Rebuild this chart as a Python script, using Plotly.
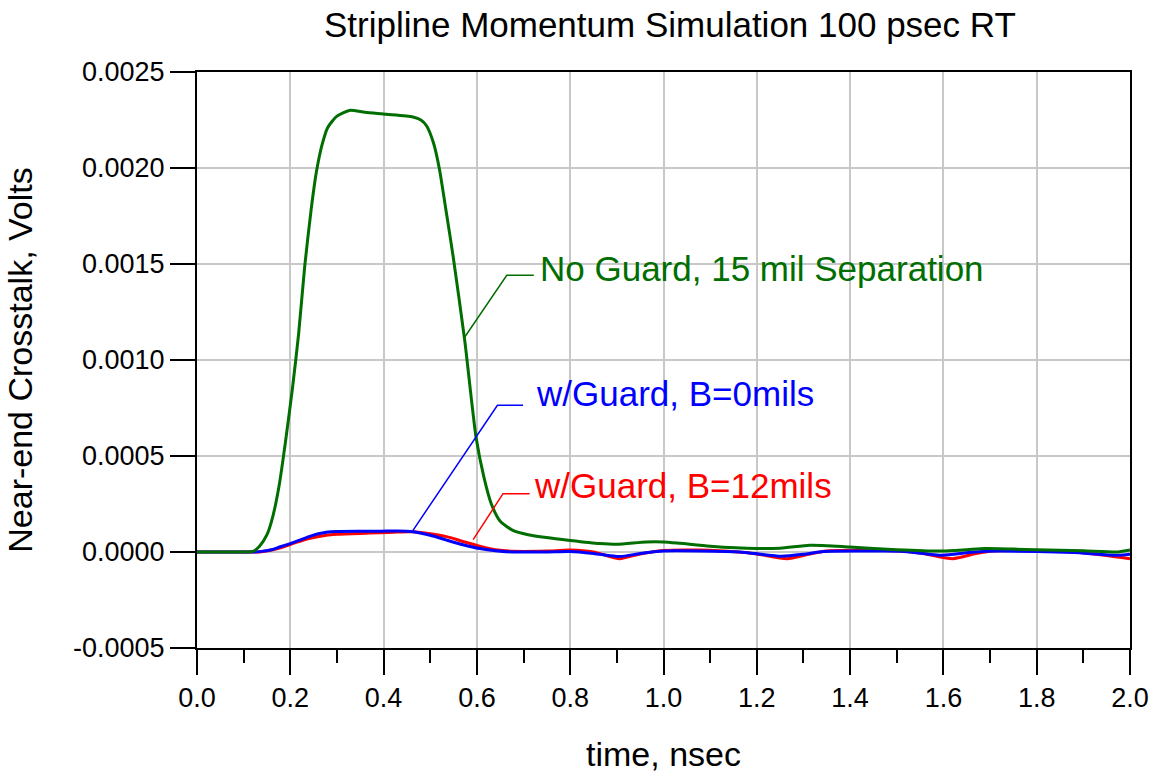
import plotly.graph_objects as go

# ---------------- data ----------------
green_t = [0.0, 0.10, 0.12, 0.134, 0.15, 0.163, 0.177, 0.19, 0.205, 0.218, 0.231, 0.245,
           0.256, 0.268, 0.28, 0.30, 0.327, 0.36, 0.406, 0.463, 0.48, 0.492, 0.507, 0.52,
           0.535, 0.549, 0.574, 0.598, 0.615, 0.631, 0.65, 0.677, 0.71, 0.749, 0.80,
           0.863, 0.90, 0.963, 1.0, 1.035, 1.10, 1.199, 1.25, 1.313, 1.35, 1.399, 1.5,
           1.598, 1.65, 1.689, 1.75, 1.798, 1.9, 1.974, 2.0]
green_v = [0.0, 0.0, 0.000003, 0.00003, 0.00009, 0.00019, 0.00036, 0.00058, 0.00086, 0.00114,
           0.00149, 0.00179, 0.00198, 0.00212, 0.00221, 0.00227, 0.00230, 0.00229, 0.00228,
           0.002266, 0.00225, 0.00222, 0.00213, 0.00199, 0.00176, 0.00154, 0.00110,
           0.00060, 0.00039, 0.00025, 0.00016, 0.000113, 0.00009, 0.000075, 0.00006,
           0.000044, 0.00004, 0.000052, 0.000052, 0.000045, 0.00003, 0.000018, 0.00002,
           0.000035, 0.000033, 0.000026, 0.000012, 0.000005, 0.000012, 0.000018, 0.000015,
           0.000012, 0.000006, 0.0, 0.00001]

blue_t = [0.0, 0.12, 0.134, 0.16, 0.177, 0.195, 0.213, 0.24, 0.26, 0.277, 0.30, 0.35, 0.392,
          0.43, 0.463, 0.50, 0.535, 0.57, 0.606, 0.64, 0.677, 0.75, 0.80, 0.85, 0.906, 0.95,
          1.0, 1.08, 1.163, 1.253, 1.30, 1.343, 1.45, 1.51, 1.598, 1.65, 1.69, 1.80, 1.88,
          1.974, 2.0]
blue_v = [0.0, 0.0, 0.000002, 0.000012, 0.000026, 0.00004, 0.000055, 0.00008, 0.000095,
          0.000103, 0.000107, 0.000108, 0.000108, 0.00011, 0.000106, 0.000087, 0.000062,
          0.000038, 0.000018, 0.000006, 0.0, 0.0, 0.000002, -0.000008, -0.000024, -0.000008,
          0.000005, 0.000005, 0.0, -0.000022, -0.000012, 0.000003, 0.000005, 0.000004,
          -0.000017, -0.000004, 0.000004, 0.000003, -0.000003, -0.000017, -0.000012]

red_t = [0.0, 0.12, 0.134, 0.16, 0.177, 0.213, 0.24, 0.277, 0.30, 0.35, 0.392, 0.43, 0.463,
         0.50, 0.535, 0.57, 0.606, 0.64, 0.677, 0.75, 0.80, 0.85, 0.906, 0.95, 1.0, 1.08,
         1.16, 1.20, 1.265, 1.31, 1.35, 1.45, 1.55, 1.62, 1.67, 1.71, 1.80, 1.88, 1.95, 2.0]
red_v = [0.0, 0.0, 0.0, 0.00001, 0.00002, 0.00005, 0.00007, 0.000087, 0.000092, 0.000097,
         0.0001, 0.000104, 0.000105, 0.000095, 0.00008, 0.000055, 0.00003, 0.000012,
         0.000004, 0.000005, 0.00001, 0.0, -0.000035, -0.00001, 0.000008, 0.00001, 0.0,
         -0.00001, -0.000035, -0.000012, 0.000005, 0.00001, -0.000005, -0.000035,
         -0.000008, 0.000006, 0.000006, 0.0, -0.000018, -0.000035]

x_ticks = [0.0, 0.2, 0.4, 0.6, 0.8, 1.0, 1.2, 1.4, 1.6, 1.8, 2.0]
x_tick_text = ["0.0", "0.2", "0.4", "0.6", "0.8", "1.0", "1.2", "1.4", "1.6", "1.8", "2.0"]
y_ticks = [-0.0005, 0.0, 0.0005, 0.0010, 0.0015, 0.0020, 0.0025]
y_tick_text = ["-0.0005", "0.0000", "0.0005", "0.0010", "0.0015", "0.0020", "0.0025"]

# labels with elbow leader lines (leader path in data units, text anchor)
labels = [
    dict(text="No Guard, 15 mil Separation", color="#006e00",
         lx=[0.574, 0.664, 0.722], ly=[0.00112, 0.001441, 0.001441], tx=0.731, ty=0.001478),
    dict(text="w/Guard, B=0mils", color="#0000ff",
         lx=[0.463, 0.644, 0.699], ly=[0.000113, 0.000764, 0.000764], tx=0.723, ty=0.000825),
    dict(text="w/Guard, B=12mils", color="#ff0000",
         lx=[0.592, 0.656, 0.713], ly=[0.0000646, 0.000304, 0.000304], tx=0.719, ty=0.000347),
]

FONT = "Arial, Liberation Sans, sans-serif"

fig = go.Figure()
series = [(red_t, red_v, "#ff0000"), (blue_t, blue_v, "#0000ff"), (green_t, green_v, "#006e00")]
for t, v, c in series:
    fig.add_trace(go.Scatter(x=t, y=v, mode="lines",
                             line=dict(color=c, width=3, shape="spline", smoothing=0.6),
                             hoverinfo="skip", showlegend=False))

for lab in labels:
    fig.add_trace(go.Scatter(x=lab["lx"], y=lab["ly"], mode="lines",
                             line=dict(color=lab["color"], width=1.5),
                             hoverinfo="skip", showlegend=False))
    fig.add_annotation(x=lab["tx"], y=lab["ty"], text=lab["text"], showarrow=False,
                       xanchor="left", yanchor="middle",
                       font=dict(family=FONT, size=35, color=lab["color"]))

fig.update_layout(
    width=1155, height=775,
    margin=dict(l=197, r=25, t=72, b=127),
    paper_bgcolor="white", plot_bgcolor="white",
    title=dict(text="Stripline Momentum Simulation 100 psec RT", x=0.58, xanchor="center",
               y=1 - 25 / 775, yanchor="middle", yref="container",
               font=dict(family=FONT, size=35, color="black")),
    font=dict(family=FONT, color="black"),
)

fig.update_xaxes(
    range=[0, 2], tickvals=x_ticks, ticktext=x_tick_text, automargin=False,
    ticks="outside", ticklen=25, tickwidth=2, tickcolor="black",
    minor=dict(dtick=0.1, tick0=0, ticks="outside", ticklen=13, tickwidth=2,
               tickcolor="black", showgrid=False),
    showgrid=True, gridcolor="#c8c8c8", gridwidth=2,
    showline=True, linecolor="black", linewidth=2, mirror=True,
    zeroline=False,
    tickfont=dict(family=FONT, size=27, color="black"),
    title=dict(text="time, nsec", font=dict(family=FONT, size=34, color="black"), standoff=30),
)
fig.update_yaxes(
    range=[-0.0005, 0.0025], tickvals=y_ticks, ticktext=y_tick_text, automargin=False,
    ticks="outside", ticklen=25, tickwidth=2, tickcolor="black",
    showgrid=True, gridcolor="#c8c8c8", gridwidth=2,
    showline=True, linecolor="black", linewidth=2, mirror=True,
    zeroline=False,
    tickfont=dict(family=FONT, size=27, color="black"),
    title=dict(text="Near-end Crosstalk, Volts", font=dict(family=FONT, size=34, color="black"),
               standoff=30),
)

fig.write_html("out.html", config={"displayModeBar": False},
               post_script="document.body.style.margin='0';")
